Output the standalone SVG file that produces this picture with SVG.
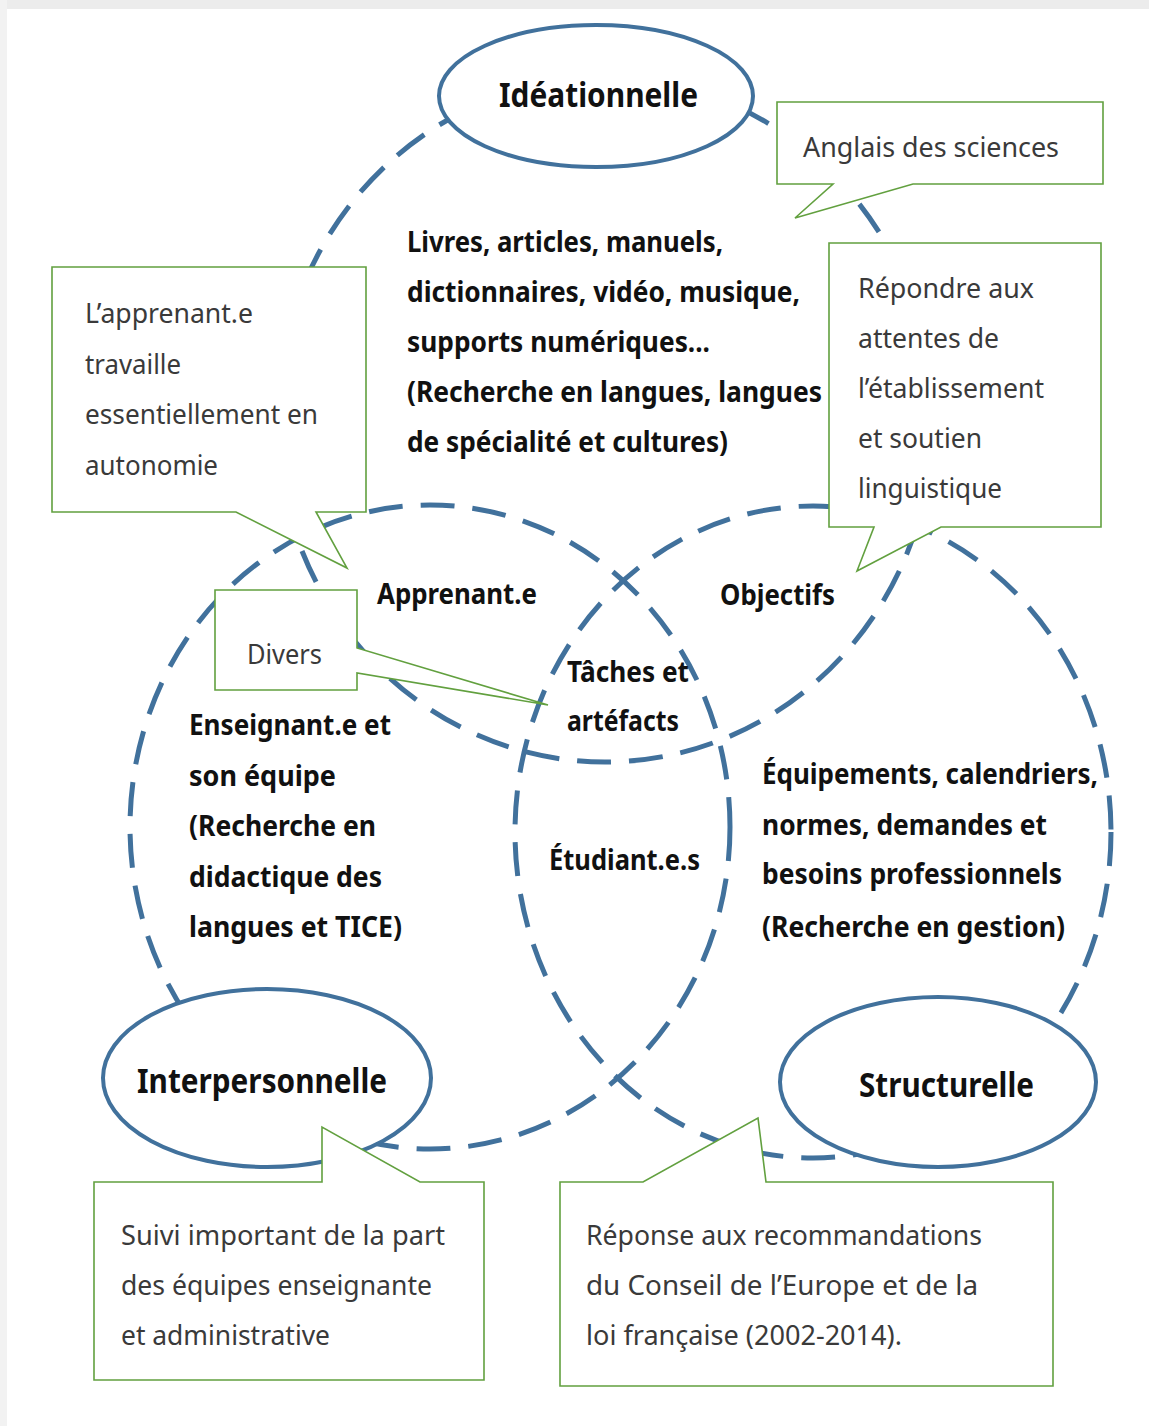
<svg xmlns="http://www.w3.org/2000/svg" width="1149" height="1426" viewBox="0 0 1149 1426">
<style>
.dash{fill:none;stroke:#41719C;stroke-width:5;stroke-dasharray:34 18}
.ell{fill:#fff;stroke:#41719C;stroke-width:4}
.call{fill:#fff;stroke:#62A03F;stroke-width:1.6;stroke-linejoin:miter}
.b{font-family:"Noto Sans","Open Sans","DejaVu Sans",sans-serif;font-weight:bold;fill:#111;font-size:29px}
.big{font-family:"Noto Sans","Open Sans","DejaVu Sans",sans-serif;font-weight:bold;fill:#111;font-size:34px}
.r{font-family:"Noto Sans","Open Sans","DejaVu Sans",sans-serif;fill:#3a3a3a;font-size:28px}
</style>
<rect x="0" y="0" width="1149" height="1426" fill="#fff"/>
<rect x="0" y="0" width="1149" height="9" fill="#ececec"/>
<rect x="0" y="0" width="7" height="1426" fill="#f2f2f2"/>

<g id="connectors">
<ellipse class="dash" cx="605" cy="420" rx="328" ry="342"/>
<ellipse class="dash" cx="430" cy="827" rx="300" ry="322"/>
<ellipse class="dash" cx="813" cy="832" rx="298" ry="326"/>
</g>

<g id="labels">
<g id="resources">
<text class="b" x="407" y="252" textLength="316" lengthAdjust="spacingAndGlyphs">Livres, articles, manuels,</text>
<text class="b" x="407" y="302" textLength="393" lengthAdjust="spacingAndGlyphs">dictionnaires, vidéo, musique,</text>
<text class="b" x="407" y="352" textLength="303" lengthAdjust="spacingAndGlyphs">supports numériques...</text>
<text class="b" x="407" y="402" textLength="415" lengthAdjust="spacingAndGlyphs">(Recherche en langues, langues</text>
<text class="b" x="407" y="452" textLength="321" lengthAdjust="spacingAndGlyphs">de spécialité et cultures)</text>
</g>
<g id="apprenant"><text class="b" x="377" y="604" textLength="160" lengthAdjust="spacingAndGlyphs">Apprenant.e</text></g>
<g id="objectifs"><text class="b" x="720" y="605" textLength="115" lengthAdjust="spacingAndGlyphs">Objectifs</text></g>
<g id="taches">
<text class="b" x="567" y="682" textLength="122" lengthAdjust="spacingAndGlyphs">Tâches et</text>
<text class="b" x="567" y="731" textLength="112" lengthAdjust="spacingAndGlyphs">artéfacts</text>
</g>
<g id="etudiants"><text class="b" x="549" y="870" textLength="151" lengthAdjust="spacingAndGlyphs">Étudiant.e.s</text></g>
<g id="enseignant">
<text class="b" x="189" y="735" textLength="202" lengthAdjust="spacingAndGlyphs">Enseignant.e et</text>
<text class="b" x="189" y="786" textLength="147" lengthAdjust="spacingAndGlyphs">son équipe</text>
<text class="b" x="189" y="836" textLength="187" lengthAdjust="spacingAndGlyphs">(Recherche en</text>
<text class="b" x="189" y="887" textLength="193" lengthAdjust="spacingAndGlyphs">didactique des</text>
<text class="b" x="189" y="937" textLength="213" lengthAdjust="spacingAndGlyphs">langues et TICE)</text>
</g>
<g id="equipements">
<text class="b" x="762" y="784" textLength="336" lengthAdjust="spacingAndGlyphs">Équipements, calendriers,</text>
<text class="b" x="762" y="835" textLength="285" lengthAdjust="spacingAndGlyphs">normes, demandes et</text>
<text class="b" x="762" y="884" textLength="300" lengthAdjust="spacingAndGlyphs">besoins professionnels</text>
<text class="b" x="762" y="937" textLength="303" lengthAdjust="spacingAndGlyphs">(Recherche en gestion)</text>
</g>
</g>

<g id="ideationnelle">
<ellipse class="ell" cx="596" cy="96" rx="157" ry="71"/>
<text class="big" x="499" y="107" textLength="199" lengthAdjust="spacingAndGlyphs">Idéationnelle</text>
</g>
<g id="interpersonnelle">
<ellipse class="ell" cx="267" cy="1078" rx="164" ry="89"/>
<text class="big" x="137" y="1093" textLength="250" lengthAdjust="spacingAndGlyphs">Interpersonnelle</text>
</g>
<g id="structurelle">
<ellipse class="ell" cx="938" cy="1082" rx="158" ry="85"/>
<text class="big" x="859" y="1097" textLength="175" lengthAdjust="spacingAndGlyphs">Structurelle</text>
</g>

<g id="callout-apprenant">
<path class="call" d="M52,267 H366 V512 H316 L347,568 L236,512 H52 Z"/>
<text class="r" x="85" y="323" textLength="168" lengthAdjust="spacingAndGlyphs">L’apprenant.e</text>
<text class="r" x="85" y="374" textLength="96" lengthAdjust="spacingAndGlyphs">travaille</text>
<text class="r" x="85" y="424" textLength="233" lengthAdjust="spacingAndGlyphs">essentiellement en</text>
<text class="r" x="85" y="475" textLength="133" lengthAdjust="spacingAndGlyphs">autonomie</text>
</g>
<g id="callout-anglais">
<path class="call" d="M777,102 H1103 V184 H913 L795,218 L833,184 H777 Z"/>
<text class="r" x="803" y="157" textLength="256" lengthAdjust="spacingAndGlyphs">Anglais des sciences</text>
</g>
<g id="callout-repondre">
<path class="call" d="M829,243 H1101 V527 H941 L857,571 L874,527 H829 Z"/>
<text class="r" x="858" y="298" textLength="176" lengthAdjust="spacingAndGlyphs">Répondre aux</text>
<text class="r" x="858" y="348" textLength="141" lengthAdjust="spacingAndGlyphs">attentes de</text>
<text class="r" x="858" y="398" textLength="186" lengthAdjust="spacingAndGlyphs">l’établissement</text>
<text class="r" x="858" y="448" textLength="124" lengthAdjust="spacingAndGlyphs">et soutien</text>
<text class="r" x="858" y="498" textLength="144" lengthAdjust="spacingAndGlyphs">linguistique</text>
</g>
<g id="callout-divers">
<path class="call" d="M215,590 H357 V648 L548,705 L357,673 V690 H215 Z"/>
<text class="r" x="247" y="664" textLength="75" lengthAdjust="spacingAndGlyphs">Divers</text>
</g>
<g id="callout-suivi">
<path class="call" d="M94,1182 H322 V1127 L420,1182 H484 V1380 H94 Z"/>
<text class="r" x="121" y="1245" textLength="324" lengthAdjust="spacingAndGlyphs">Suivi important de la part</text>
<text class="r" x="121" y="1295" textLength="311" lengthAdjust="spacingAndGlyphs">des équipes enseignante</text>
<text class="r" x="121" y="1345" textLength="209" lengthAdjust="spacingAndGlyphs">et administrative</text>
</g>
<g id="callout-reponse">
<path class="call" d="M560,1182 H643 L758,1118 L766,1182 H1053 V1386 H560 Z"/>
<text class="r" x="586" y="1245" textLength="396" lengthAdjust="spacingAndGlyphs">Réponse aux recommandations</text>
<text class="r" x="586" y="1295" textLength="392" lengthAdjust="spacingAndGlyphs">du Conseil de l’Europe et de la</text>
<text class="r" x="586" y="1345" textLength="316" lengthAdjust="spacingAndGlyphs">loi française (2002-2014).</text>
</g>
</svg>
